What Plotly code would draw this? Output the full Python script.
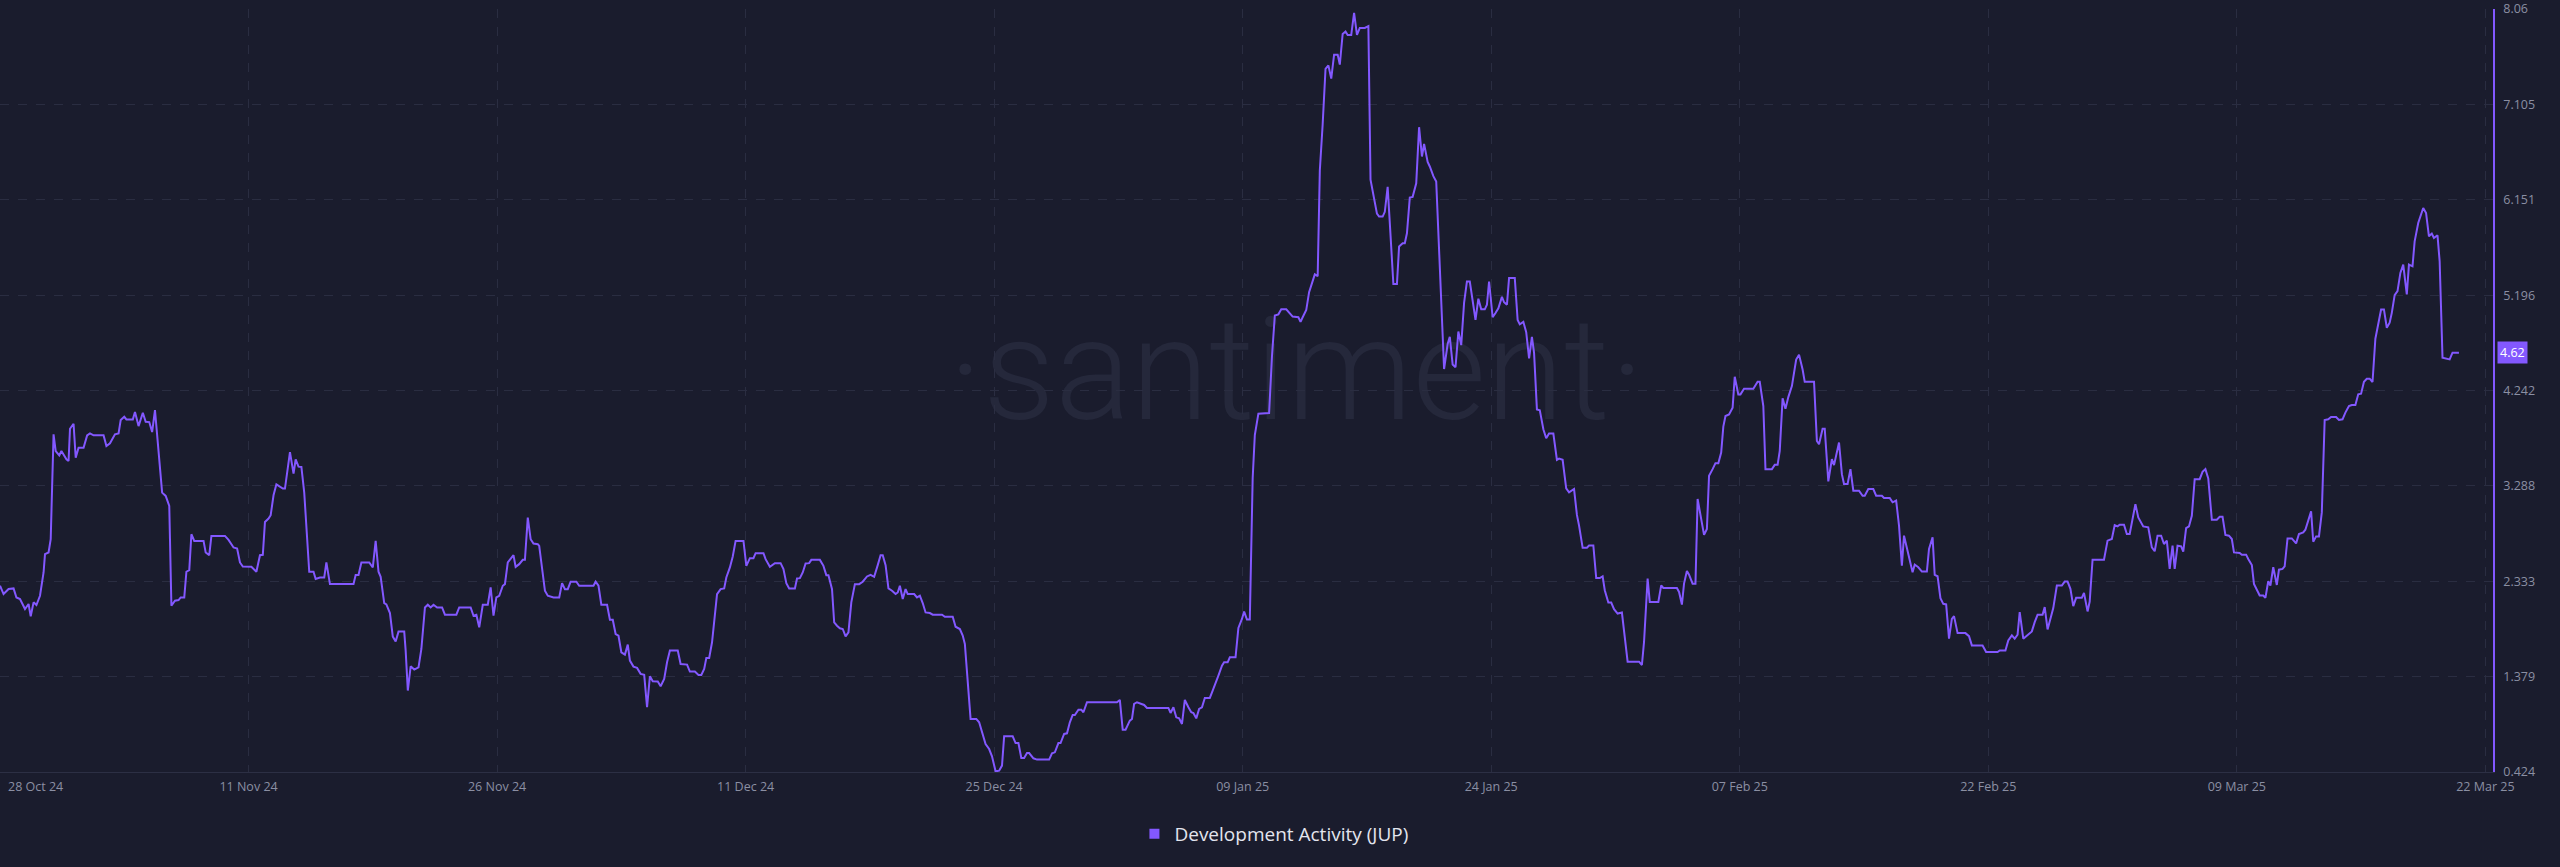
import pandas as pd
import plotly.graph_objects as go

# ---------------- data ----------------
start_date = "2024-10-28 00:00"
series_name = "Development Activity (JUP)"

hours_from_start = [
    0, 5, 12, 19, 23, 28, 35, 40, 43, 47, 51, 56, 61, 63, 68, 71, 72, 75, 78, 83,
    86, 93, 96, 98, 103, 106, 110, 117, 122, 126, 131, 145, 149, 154, 161, 166, 169, 174, 177, 186,
    189, 194, 200, 204, 209, 213, 217, 222, 227, 232, 237, 240, 245, 250, 253, 258, 261, 265, 268, 272,
    285, 288, 293, 296, 315, 320, 327, 332, 336, 340, 352, 359, 364, 368, 371, 376, 379, 383, 387, 396,
    399, 406, 411, 414, 418, 422, 426, 433, 439, 442, 448, 454, 457, 462, 495, 498, 502, 506, 517, 522,
    526, 530, 533, 538, 541, 546, 550, 554, 558, 566,
    568, 571, 575, 580, 586, 590, 595, 599, 603, 607, 612, 619, 623, 639, 643, 659, 663, 667, 671, 676,
    683, 687, 691, 695, 699, 704, 707, 711, 719, 722, 727, 732, 735, 739, 743, 747, 753, 755, 759, 763,
    767, 772, 775, 783, 787, 791, 795, 799, 807, 811, 831, 834, 838, 842, 850, 854, 858, 862, 866, 870,
    875, 879, 882, 887, 892, 897, 902, 906, 910, 914, 921, 925, 930, 934, 938, 949, 953, 962, 966, 973,
    978, 982, 986, 989, 993, 997, 1000, 1004, 1009, 1014, 1017, 1022, 1026, 1030, 1041, 1045, 1050, 1055, 1058, 1069,
    1072, 1078, 1085, 1093, 1097, 1101, 1105, 1113, 1116, 1120, 1124, 1128, 1133, 1136, 1148, 1153, 1157, 1160, 1165, 1168,
    1172, 1176, 1180, 1184, 1188, 1192, 1197, 1203, 1208, 1214, 1219, 1224, 1229, 1233, 1236, 1240, 1244, 1249, 1254, 1257,
    1260, 1264, 1268, 1271, 1280, 1284, 1288, 1292, 1296, 1302, 1306, 1319, 1323, 1334, 1338, 1344,
    1348, 1351, 1359, 1367, 1371, 1376, 1380, 1385, 1389, 1394, 1399, 1403, 1406, 1418, 1422, 1426, 1430, 1434, 1438, 1441,
    1447, 1452, 1469, 1473, 1477, 1482, 1485, 1490, 1494, 1498, 1502, 1505, 1510, 1514, 1517, 1522, 1564, 1568, 1572, 1576,
    1582, 1585, 1588, 1592, 1599, 1602, 1606, 1636, 1639, 1643, 1647, 1651, 1655, 1659, 1664, 1668, 1671, 1675, 1679, 1683,
    1687, 1694, 1698, 1702, 1706, 1711, 1714, 1719, 1722, 1730, 1734, 1739, 1742, 1746, 1750,
    1754, 1757, 1762, 1777, 1781, 1785, 1790, 1794, 1801, 1805, 1810, 1818, 1821, 1824, 1829, 1833, 1837, 1841, 1845, 1848,
    1852, 1856, 1860, 1864, 1868, 1873, 1876, 1880, 1884, 1887, 1892, 1896, 1900, 1904, 1911, 1916, 1919, 1923, 1928, 1931,
    1936, 1939, 1943, 1947, 1951, 1956, 1959, 1964, 1967, 1970, 1974, 1978, 1983, 1987, 1991, 1994, 1999, 2002, 2007, 2011,
    2022, 2027, 2030, 2034, 2038, 2042, 2046, 2050, 2054, 2058, 2062, 2066, 2070, 2074, 2079, 2082, 2085, 2090, 2094, 2098,
    2103, 2106, 2110, 2113, 2121, 2125, 2128, 2133, 2137, 2141, 2145, 2148, 2152,
    2156, 2161, 2165, 2169, 2175, 2180, 2183, 2188, 2193, 2197, 2204, 2208, 2211, 2216, 2222, 2225, 2231, 2235, 2240, 2244,
    2247, 2252, 2256, 2260, 2265, 2271, 2279, 2295, 2299, 2302, 2307, 2310, 2322, 2326, 2329, 2348, 2351, 2355, 2358, 2362,
    2365, 2370, 2374, 2377, 2380, 2386, 2390, 2393, 2398, 2402, 2406, 2410, 2413, 2416, 2421, 2426, 2429, 2434, 2437, 2442,
    2455, 2461, 2464, 2469, 2472, 2481, 2485, 2489, 2492, 2496, 2500, 2504, 2509, 2515, 2519, 2524, 2527, 2540, 2544, 2547,
    2552, 2555, 2560, 2565, 2568, 2572, 2575, 2579, 2582, 2587, 2591, 2595, 2603, 2608, 2611, 2616, 2623, 2627, 2635, 2638,
    2646, 2650, 2655, 2659,
    2663, 2666, 2670, 2673, 2678, 2681, 2686, 2691, 2698, 2701, 2706, 2709, 2713, 2717, 2721, 2725, 2729, 2733, 2736, 2741,
    2752, 2757, 2761, 2776, 2781, 2797, 2800, 2808, 2812, 2817, 2821, 2825, 2828, 2833, 2837, 2845, 2849, 2853, 2860, 2863,
    2867, 2871, 2875, 2880, 2887, 2891, 2895, 2899, 2903, 2907, 2915, 2918, 2923, 2926, 2930, 2946, 2951, 2957, 2961, 2965,
    2968, 2974, 2978, 2982, 2986, 2990, 2994, 3001, 3008, 3013, 3017, 3021, 3026, 3030, 3034, 3038, 3042, 3045, 3049, 3054,
    3057, 3061, 3065, 3069, 3073, 3080,
    3084, 3088, 3092, 3097, 3104, 3108, 3112, 3116, 3121, 3125, 3128, 3136, 3139, 3145, 3148, 3153, 3156, 3160, 3164, 3169,
    3172, 3176, 3179, 3183, 3188, 3191, 3196, 3199, 3203, 3209, 3215, 3219, 3225, 3228, 3232, 3236, 3239, 3243, 3247, 3251,
    3255, 3260, 3264, 3271, 3275, 3280, 3284, 3289, 3293, 3298, 3302, 3306, 3310, 3314, 3318, 3322, 3326, 3330, 3334, 3338,
    3342, 3346, 3349, 3353, 3357, 3361, 3365, 3370, 3373, 3378, 3381, 3386, 3390, 3393, 3397, 3401, 3405, 3408, 3413, 3416,
    3420, 3427, 3430, 3434, 3443,
]

dev_activity = [
    2.288, 2.205, 2.255, 2.261, 2.171, 2.155, 2.055, 2.105, 1.982, 2.122, 2.095, 2.188, 2.421, 2.604, 2.621, 2.754, 3.020, 3.803, 3.636, 3.593,
    3.636, 3.553, 3.536, 3.859, 3.909, 3.570, 3.670, 3.670, 3.793, 3.813, 3.793, 3.793, 3.686, 3.713, 3.803, 3.813, 3.946, 3.979, 3.953, 3.953,
    4.026, 3.886, 4.019, 3.929, 3.926, 3.826, 4.046, 3.636, 3.220, 3.187, 3.087, 2.088, 2.138, 2.145, 2.171, 2.171, 2.428, 2.445, 2.804, 2.737,
    2.737, 2.621, 2.594, 2.787, 2.787, 2.747, 2.671, 2.661, 2.521, 2.481, 2.478, 2.428, 2.594, 2.598, 2.927, 2.960, 2.994, 3.193, 3.303, 3.260,
    3.260, 3.626, 3.410, 3.553, 3.480, 3.477, 3.220, 2.428, 2.428, 2.355, 2.371, 2.371, 2.521, 2.305, 2.305, 2.395, 2.395, 2.521, 2.521, 2.471,
    2.737, 2.428, 2.378, 2.115, 2.102, 2.015, 1.779, 1.729, 1.829, 1.829,
    1.639, 1.239, 1.482, 1.449, 1.472, 1.655, 2.071, 2.098, 2.071, 2.098, 2.071, 2.071, 1.998, 1.998, 2.071, 2.071, 1.988, 1.998, 1.872, 2.098,
    2.098, 2.271, 1.988, 2.171, 2.188, 2.288, 2.304, 2.521, 2.594, 2.477, 2.504, 2.547, 2.547, 2.970, 2.754, 2.711, 2.704, 2.687, 2.454, 2.238,
    2.188, 2.181, 2.171, 2.171, 2.314, 2.254, 2.254, 2.328, 2.328, 2.288, 2.288, 2.328, 2.288, 2.098, 2.098, 1.948, 1.948, 1.805, 1.788, 1.622,
    1.599, 1.699, 1.539, 1.479, 1.466, 1.406, 1.396, 1.073, 1.382, 1.332, 1.329, 1.282, 1.356, 1.522, 1.639, 1.639, 1.505, 1.499, 1.429, 1.429,
    1.396, 1.396, 1.456, 1.565, 1.565, 1.722, 1.955, 2.205, 2.254, 2.261, 2.371, 2.471, 2.581, 2.737, 2.737, 2.487, 2.564, 2.564, 2.614, 2.614,
    2.554, 2.477, 2.514, 2.514, 2.454, 2.314, 2.261, 2.261, 2.361, 2.364, 2.421, 2.511, 2.514, 2.547, 2.547, 2.487, 2.394, 2.394, 2.254, 1.922,
    1.888, 1.862, 1.855, 1.782, 1.822, 2.121, 2.304, 2.304, 2.328, 2.381, 2.398, 2.378, 2.494, 2.594, 2.594, 2.494, 2.261, 2.238, 2.205, 2.221,
    2.288, 2.155, 2.254, 2.205, 2.205, 2.171, 2.188, 2.115, 2.021, 2.015, 1.998, 1.998, 1.978, 1.978, 1.878, 1.855,
    1.789, 1.706, 0.955, 0.955, 0.921, 0.788, 0.704, 0.654, 0.581, 0.431, 0.437, 0.488, 0.781, 0.781, 0.714, 0.714, 0.564, 0.564, 0.614, 0.614,
    0.561, 0.548, 0.548, 0.611, 0.621, 0.714, 0.714, 0.805, 0.811, 0.921, 0.995, 0.995, 1.048, 1.048, 1.022, 1.122, 1.122, 1.145, 0.848, 0.848,
    0.938, 0.955, 1.105, 1.122, 1.098, 1.095, 1.065, 1.065, 1.015, 1.072, 0.971, 0.961, 0.905, 1.145, 1.072, 1.022, 1.015, 0.961, 1.055, 1.072,
    1.165, 1.165, 1.238, 1.305, 1.389, 1.489, 1.522, 1.522, 1.572, 1.572, 1.866, 1.956, 2.029, 1.949, 1.949,
    3.367, 3.796, 4.010, 4.017, 4.582, 4.993, 5.004, 5.054, 5.054, 5.018, 4.982, 4.975, 4.929, 4.975, 5.047, 5.226, 5.315, 5.404, 5.386, 6.441,
    6.906, 7.460, 7.496, 7.363, 7.603, 7.603, 7.503, 7.810, 7.835, 7.800, 7.800, 8.021, 7.800, 7.871, 7.871, 7.889, 6.352, 6.209, 6.012, 5.983,
    5.983, 6.030, 6.280, 5.797, 5.308, 5.308, 5.683, 5.715, 5.715, 5.815, 6.173, 6.180, 6.316, 6.877, 6.584, 6.709, 6.530, 6.484, 6.387, 6.334,
    4.457, 4.707, 4.779, 4.503, 4.475, 4.832, 4.696, 5.118, 5.333, 5.333, 5.154, 4.950, 5.161, 5.054, 5.054, 5.100, 5.333, 4.975, 5.018, 5.065,
    5.179, 5.125, 5.100, 5.368, 5.368, 4.947, 4.904, 4.929, 4.825, 4.564, 4.779, 4.618, 4.053,
    4.045, 3.854, 3.764, 3.811, 3.811, 3.548, 3.561, 3.548, 3.262, 3.223, 3.256, 2.997, 2.890, 2.668, 2.668, 2.691, 2.691, 2.365, 2.365, 2.382,
    2.243, 2.120, 2.120, 2.053, 2.010, 2.020, 1.528, 1.528, 1.495, 1.728, 2.359, 2.126, 2.126, 2.292, 2.266, 2.266, 2.226, 2.100, 2.309, 2.435,
    2.399, 2.309, 2.309, 3.156, 3.040, 2.797, 2.857, 3.389, 3.455, 3.515, 3.515, 3.621, 3.880, 3.987, 4.003, 4.070, 4.379, 4.203, 4.203, 4.259,
    4.259, 4.329, 4.329, 4.086, 3.455, 3.455, 3.498, 3.498, 3.638, 4.163, 4.060, 4.176, 4.286, 4.551, 4.601, 4.452, 4.329, 4.329, 3.737, 3.704,
    3.860, 3.860, 3.332, 3.555, 3.495, 3.631, 3.721, 3.405, 3.306, 3.306, 3.455, 3.239, 3.239, 3.189, 3.189, 3.256, 3.256, 3.189, 3.189, 3.166,
    3.166, 3.123, 3.140, 2.890,
    2.490, 2.789, 2.672, 2.589, 2.423, 2.500, 2.473, 2.430, 2.430, 2.656, 2.772, 2.396, 2.383, 2.164, 2.107, 2.101, 1.758, 1.957, 1.984, 1.814,
    1.814, 1.784, 1.691, 1.691, 1.625, 1.625, 1.641, 1.641, 1.741, 1.791, 1.758, 1.798, 2.024, 1.758, 1.784, 1.831, 1.924, 1.997, 1.997, 2.074,
    1.851, 1.957, 2.064, 2.290, 2.290, 2.330, 2.330, 2.257, 2.084, 2.167, 2.167, 2.217, 2.031, 2.130, 2.549, 2.549, 2.739, 2.756, 2.895, 2.882,
    2.899, 2.899, 2.806, 2.806, 2.962, 3.105, 2.972, 2.882, 2.872, 2.672, 2.633, 2.789, 2.789, 2.706, 2.739, 2.456, 2.689, 2.456, 2.689, 2.683,
    2.629, 2.865, 2.882, 2.988, 3.354, 3.354,
    3.428, 3.455, 3.361, 2.949, 2.949, 2.979, 2.979, 2.796, 2.789, 2.756, 2.622, 2.616, 2.599, 2.599, 2.556, 2.496, 2.306, 2.240, 2.190, 2.190,
    2.166, 2.333, 2.290, 2.473, 2.296, 2.449, 2.456, 2.483, 2.762, 2.762, 2.712, 2.806, 2.822, 2.849, 2.939, 3.032, 2.729, 2.782, 2.782, 3.022,
    3.947, 3.954, 3.977, 3.977, 3.947, 3.954, 4.021, 4.087, 4.097, 4.097, 4.204, 4.210, 4.330, 4.360, 4.360, 4.327, 4.760, 4.910, 5.053, 5.053,
    4.870, 4.920, 5.019, 5.196, 5.236, 5.419, 5.502, 5.203, 5.502, 5.485, 5.735, 5.918, 6.018, 6.068, 6.018, 5.785, 5.812, 5.768, 5.795, 5.535,
    4.570, 4.560, 4.553, 4.620, 4.620,
]

x_tick_labels = ["28 Oct 24", "11 Nov 24", "26 Nov 24", "11 Dec 24", "25 Dec 24", "09 Jan 25",
                 "24 Jan 25", "07 Feb 25", "22 Feb 25", "09 Mar 25", "22 Mar 25"]
y_tick_values = [0.424, 1.379, 2.333, 3.288, 4.242, 5.196, 6.151, 7.105, 8.06]
y_tick_labels = ["0.424", "1.379", "2.333", "3.288", "4.242", "5.196", "6.151", "7.105", "8.06"]

# ---------------- style ----------------
BG = "#1a1c2d"
PURPLE = "#8358ff"
GRID = "#2a2d41"
TICK_COLOR = "#8b8fa3"
FONT = "Open Sans"

t0 = pd.Timestamp(start_date)
times = t0 + pd.to_timedelta(hours_from_start, unit="h")
x_end = t0 + pd.Timedelta(hours=3490.7)
tick_step = pd.Timedelta(days=14.5)
x_tick_vals = [t0 + i * tick_step for i in range(len(x_tick_labels))]
x_tick_text = [""] + x_tick_labels[1:]

fig = go.Figure()
fig.add_trace(go.Scatter(
    x=times, y=dev_activity, mode="lines",
    line=dict(color=PURPLE, width=2),
    showlegend=False, hoverinfo="skip",
))
fig.add_trace(go.Scatter(
    x=[None], y=[None], mode="markers", name=series_name,
    marker=dict(symbol="square", size=10, color=PURPLE),
    showlegend=True,
))

fig.update_layout(
    width=2560, height=867,
    paper_bgcolor=BG, plot_bgcolor=BG,
    margin=dict(l=0, r=67, t=9, b=95, pad=0),
    font=dict(family=FONT, color=TICK_COLOR, size=12.5),
    xaxis=dict(
        type="date", range=[t0, x_end],
        tickmode="array", tickvals=x_tick_vals, ticktext=x_tick_text,
        showgrid=True, gridcolor=GRID, griddash="dash", gridwidth=1,
        showline=True, linecolor="#2c2f44", linewidth=1,
        ticks="", zeroline=False, ticklabelstandoff=3,
        tickfont=dict(family=FONT, size=12.5, color=TICK_COLOR),
    ),
    yaxis=dict(
        side="right", range=[0.424, 8.06],
        tickmode="array", tickvals=y_tick_values, ticktext=y_tick_labels,
        showgrid=True, gridcolor=GRID, griddash="dash", gridwidth=1,
        showline=True, linecolor=PURPLE, linewidth=1.5,
        ticks="", zeroline=False, ticklabelstandoff=6,
        tickfont=dict(family=FONT, size=12.5, color=TICK_COLOR),
    ),
    legend=dict(
        orientation="h", x=0.511, xanchor="center", y=-0.081, yanchor="middle",
        font=dict(family=FONT, size=19, color="#e3e5ee"),
        bgcolor="rgba(0,0,0,0)", itemwidth=30,
    ),
    shapes=[dict(
        type="rect", xref="paper", yref="paper",
        x0=0.30, x1=0.74, y0=0.414, y1=0.664,
        line=dict(width=0), fillcolor="rgba(0,0,0,0)", layer="between",
        label=dict(
            text="·santiment·", textposition="middle center",
            font=dict(family="Roboto", size=142, weight=300, color="#25283b"),
        ),
    )],
    annotations=[
        dict(
            text=x_tick_labels[0], x=t0, xref="x", y=0, yref="paper",
            xanchor="left", yanchor="top", xshift=6, yshift=-4, showarrow=False,
            font=dict(family=FONT, size=12.5, color=TICK_COLOR),
        ),
        dict(
            text=f"{dev_activity[-1]:.2f}", x=1, xref="paper", y=dev_activity[-1], yref="y",
            xanchor="left", yanchor="middle", xshift=4, showarrow=False,
            bgcolor=PURPLE, borderpad=2,
            font=dict(family=FONT, size=12.5, color="#ffffff"),
        ),
    ],
)

fig.write_html(
    "out.html",
    config={"displayModeBar": False},
    post_script="document.body.style.margin='0';document.body.style.overflow='hidden';document.body.style.background='%s';" % BG,
)
